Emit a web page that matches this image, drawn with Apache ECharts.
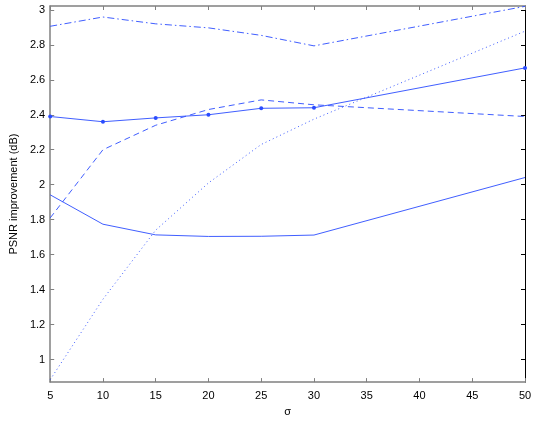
<!DOCTYPE html>
<html>
<head>
<meta charset="utf-8" />
<title>PSNR improvement</title>
<script src="https://cdn.jsdelivr.net/npm/echarts@6/dist/echarts.min.js"></script>
<style>
	html, body { margin: 0; padding: 0; background: #fff; }
	#main { width: 540px; height: 422px; }
</style>
</head>
<body>
<div id="main"></div>
<script>
	// sigma values
	var sigma = [5, 10, 15, 20, 25, 30, 50];
	// curves
	var solidDots = [2.39, 2.36, 2.382, 2.40, 2.437, 2.44, 2.668];
	var solidPlain = [1.942, 1.774, 1.713, 1.704, 1.705, 1.712, 2.041];
	var dashed = [1.81, 2.20, 2.34, 2.43, 2.485, 2.457, 2.39];
	var dotted = [0.885, 1.345, 1.74, 2.01, 2.23, 2.375, 2.878];
	var dashDot = [2.906, 2.959, 2.92, 2.897, 2.854, 2.794, 3.02];
	var yTicks = [1, 1.2, 1.4, 1.6, 1.8, 2, 2.2, 2.4, 2.6, 2.8, 3];

	var blue = '#2a4cff';
	var font = 'Liberation Sans';

	function pairs(ys) {
		return sigma.map(function (x, i) { return [x, ys[i]]; });
	}

	function line(ys, type, dots) {
		return {
			type: 'line',
			data: pairs(ys),
			showSymbol: !!dots,
			symbol: 'circle',
			symbolSize: 4,
			itemStyle: { color: blue },
			lineStyle: { color: blue, width: 0.9, type: type },
			animation: false,
			z: 3
		};
	}

	var myChart = echarts.init(document.getElementById('main'));
	var option = {
		backgroundColor: '#fff',
		grid: { left: 38, right: 15, top: 6, bottom: 33 },
		xAxis: [{
			type: 'value', min: 5, max: 50, interval: 5,
			name: 'σ', nameLocation: 'middle', nameGap: 21,
			nameTextStyle: { fontFamily: font, fontSize: 11, color: '#000' },
			axisLine: { lineStyle: { color: '#808080', width: 1.5 } },
			axisTick: { inside: true, length: 4, lineStyle: { color: '#808080' } },
			axisLabel: { fontFamily: font, fontSize: 11, color: '#000', margin: 8 },
			splitLine: { show: false }
		}, {
			type: 'value', min: 5, max: 50, interval: 5, position: 'top',
			axisLine: { lineStyle: { color: '#808080', width: 1.5 } },
			axisTick: { inside: true, length: 4, lineStyle: { color: '#808080' } },
			axisLabel: { show: false },
			splitLine: { show: false }
		}],
		yAxis: [{
			type: 'value', min: 0.871, max: 3.022,
			name: 'PSNR improvement (dB)', nameLocation: 'middle', nameGap: 28,
			nameTextStyle: { fontFamily: font, fontSize: 11, color: '#000' },
			axisLine: { lineStyle: { color: '#808080', width: 1.5 } },
			axisTick: { inside: true, length: 4, customValues: yTicks, lineStyle: { color: '#808080' } },
			axisLabel: { fontFamily: font, fontSize: 11, color: '#000', margin: 5, customValues: yTicks },
			splitLine: { show: false }
		}, {
			type: 'value', min: 0.871, max: 3.022, position: 'right',
			axisLine: { show: true, lineStyle: { color: '#000', width: 1 } },
			axisTick: { show: true, inside: true, length: 4, customValues: yTicks, lineStyle: { color: '#000' } },
			axisLabel: { show: false },
			splitLine: { show: false }
		}],
		series: [
			line(solidDots, 'solid', true),
			line(solidPlain, 'solid', false),
			line(dashed, [6, 4], false),
			line(dotted, [1, 3], false),
			line(dashDot, [7, 3, 1.5, 3], false)
		]
	};
	myChart.setOption(option);
</script>
</body>
</html>
